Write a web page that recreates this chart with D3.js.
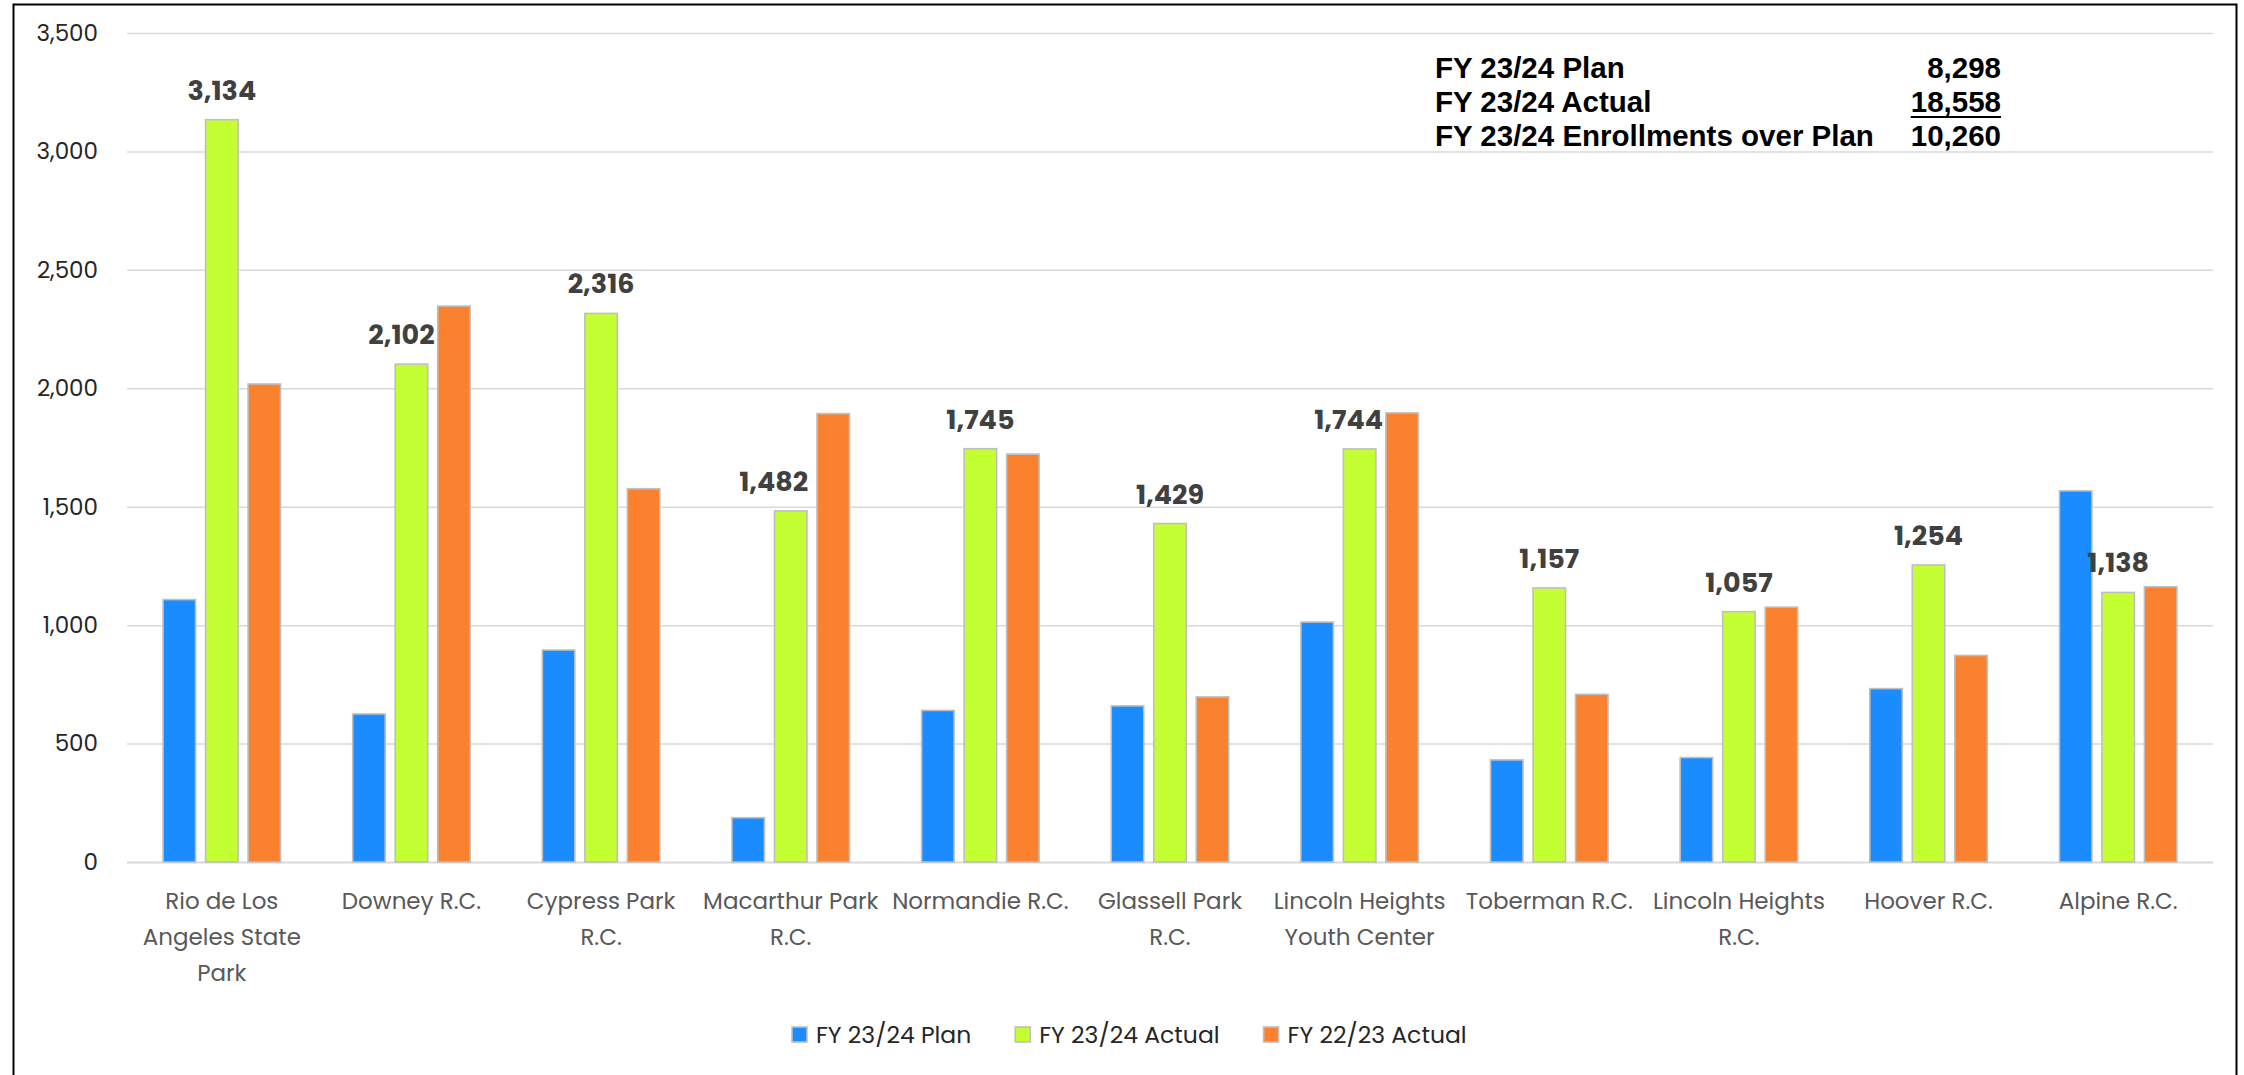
<!DOCTYPE html>
<html><head><meta charset="utf-8">
<script src="https://cdn.jsdelivr.net/npm/d3@7"></script>
<style>body{margin:0;background:#fff} svg{display:block}</style>
</head><body><svg id="chart" width="2244" height="1075"></svg>
<script>
// ---- data ----
const categories = ["Rio de Los Angeles State Park","Downey R.C.","Cypress Park R.C.","Macarthur Park R.C.","Normandie R.C.","Glassell Park R.C.","Lincoln Heights Youth Center","Toberman R.C.","Lincoln Heights R.C.","Hoover R.C.","Alpine R.C."];
const categoryLines = [["Rio de Los","Angeles State","Park"],["Downey R.C."],["Cypress Park","R.C."],["Macarthur Park","R.C."],["Normandie R.C."],["Glassell Park","R.C."],["Lincoln Heights","Youth Center"],["Toberman R.C."],["Lincoln Heights","R.C."],["Hoover R.C."],["Alpine R.C."]];
const seriesNames = ["FY 23/24 Plan","FY 23/24 Actual","FY 22/23 Actual"];
const plan2324   = [1108, 625, 895, 187, 640, 659, 1013, 431, 441, 732, 1567];
const actual2324 = [3134, 2102, 2316, 1482, 1745, 1429, 1744, 1157, 1057, 1254, 1138];
const actual2223 = [2018, 2347, 1576, 1893, 1722, 697, 1896, 708, 1076, 872, 1162];
const yTicks = [0, 500, 1000, 1500, 2000, 2500, 3000, 3500];
const summaryLabels = ["FY 23/24 Plan","FY 23/24 Actual","FY 23/24 Enrollments over Plan"];
const summaryValues = [8298, 18558, 10260];

// ---- style / layout config ----
const colors = ["#1a8cff", "#c4ff33", "#fa822e"];
const labelNudge = [0, -10, 0, -17, 0, 0, -11, 0, 0, 0, 0];
const W = 2244, H = 1075;
const plot = {left: 127, right: 2213, top: 33, bottom: 862};
const fontMain = "Poppins, Inter, 'Noto Sans', sans-serif";

const series = [plan2324, actual2324, actual2223];
const svg = d3.select("#chart");
svg.append("rect").attr("width", W).attr("height", H).attr("fill", "#fff");
svg.append("rect").attr("x", 13.5).attr("y", 4.5).attr("width", 2223).attr("height", 1090)
  .attr("fill", "none").attr("stroke", "#000").attr("stroke-width", 2);

const x0 = d3.scaleBand().domain(categories).range([plot.left, plot.right]).padding(0);
const bw = x0.bandwidth();
const step = 42.5;
const x1 = d3.scaleBand().domain(seriesNames)
  .range([bw / 2 - 1.5 * step, bw / 2 + 1.5 * step])
  .paddingInner(10 / step).paddingOuter(5 / step);
const y = d3.scaleLinear().domain([0, 3500]).range([plot.bottom, plot.top]);

// y axis + gridlines
const yAxis = d3.axisLeft(y).tickValues(yTicks).tickFormat(d3.format(","))
  .tickSize(-(plot.right - plot.left)).tickPadding(29);
const gy = svg.append("g").attr("transform", `translate(${plot.left},0)`).call(yAxis);
gy.select(".domain").remove();
gy.selectAll(".tick line").attr("stroke", "#d9d9d9").attr("stroke-width", d => d === 0 ? 2 : 1.5);
gy.selectAll(".tick text").attr("font-family", fontMain).attr("font-size", 23).attr("fill", "#262626");

// bars
const groups = svg.append("g").selectAll("g").data(categories).join("g")
  .attr("transform", d => `translate(${x0(d)},0)`);
groups.selectAll("rect").data((d, i) => seriesNames.map((s, j) => ({s, v: series[j][i], j})))
  .join("rect")
  .attr("x", d => x1(d.s)).attr("width", x1.bandwidth())
  .attr("y", d => y(d.v)).attr("height", d => y(0) - y(d.v))
  .attr("fill", d => colors[d.j]).attr("stroke", "#bfbfbf").attr("stroke-width", 1.6);

// data labels on FY 23/24 Actual
svg.append("g").selectAll("text").data(categories).join("text")
  .attr("x", (d, i) => x0(d) + x1(seriesNames[1]) + x1.bandwidth() / 2 + labelNudge[i])
  .attr("y", (d, i) => y(actual2324[i]) - 20)
  .attr("text-anchor", "middle").attr("font-family", fontMain).attr("font-weight", 700)
  .attr("font-size", 27).attr("fill", "#404040")
  .text((d, i) => d3.format(",")(actual2324[i]));

// x axis labels
const xAxis = d3.axisBottom(x0).tickSize(0).tickPadding(0);
const gx = svg.append("g").attr("transform", `translate(0,${plot.bottom})`).call(xAxis);
gx.select(".domain").remove();
gx.selectAll(".tick text").each(function(d, i) {
  const t = d3.select(this).text(null).attr("y", 0).attr("dy", null)
    .attr("font-family", fontMain).attr("font-size", 23).attr("fill", "#595959");
  categoryLines[i].forEach((ln, k) => {
    t.append("tspan").attr("x", 0).attr("y", 47 + k * 36).text(ln);
  });
});

// legend
const leg = svg.append("g");
let lx = 792;
seriesNames.forEach((s, j) => {
  leg.append("rect").attr("x", lx).attr("y", 1027).attr("width", 15).attr("height", 15)
    .attr("fill", colors[j]).attr("stroke", "#bfbfbf").attr("stroke-width", 1.6);
  const t = leg.append("text").attr("x", lx + 24).attr("y", 1043)
    .attr("font-family", fontMain).attr("font-size", 23.5).attr("fill", "#262626").text(s);
  lx += 24 + t.node().getComputedTextLength() + 44;
});

// summary block
const sumFont = "'Liberation Sans', Arial, sans-serif";
const sg = svg.append("g");
summaryLabels.forEach((s, i) => {
  const by = 78 + i * 34;
  sg.append("text").attr("x", 1435).attr("y", by).attr("font-family", sumFont)
    .attr("font-weight", 700).attr("font-size", 29.5).attr("fill", "#000").text(s);
  const v = sg.append("text").attr("x", 2001).attr("y", by).attr("text-anchor", "end")
    .attr("font-family", sumFont).attr("font-weight", 700).attr("font-size", 29.5).attr("fill", "#000")
    .text(d3.format(",")(summaryValues[i]));
  if (i === 1) {
    const len = v.node().getComputedTextLength();
    sg.append("line").attr("x1", 2001 - len).attr("x2", 2001).attr("y1", by + 5).attr("y2", by + 5)
      .attr("stroke", "#000").attr("stroke-width", 2);
  }
});
</script></body></html>
